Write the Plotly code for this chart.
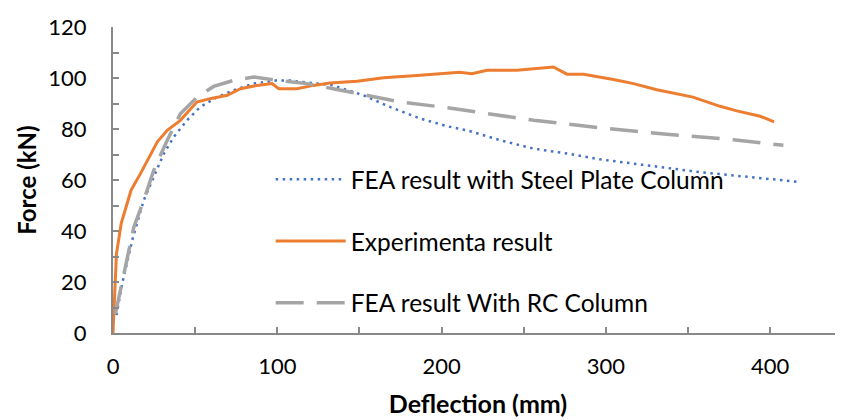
import plotly.graph_objects as go

# FEA result with steel plate column (blue dotted)
steel_x = [2.1, 5.6, 11.7, 18.7, 24.8, 30.9, 37, 45, 53, 63.4, 73.5, 85.6, 99.9, 108, 124, 134,
           152.5, 168.8, 187, 204, 215.4, 235.7, 256, 276.3, 296.5, 316.8, 337, 357, 377.6, 397.9, 418.2]
steel_f = [7, 19.4, 36.4, 52, 61.2, 70.3, 76.9, 83.4, 88.6, 92.5, 95.2, 97.8, 99.1, 99, 97.8, 97.1,
           93.2, 88.6, 84.1, 81, 79.5, 75.6, 72.3, 70.4, 68.1, 66.4, 64.7, 63.1, 61.8, 60.5, 59.2]

# experimental result (orange)
exp_x = [0, 2.1, 5, 11, 16.7, 21.8, 27, 33, 41, 51, 59, 69.5, 77.6, 87.7, 96.8, 100.9, 112, 122,
         132, 148.5, 164.7, 185, 201, 211, 218.5, 227.6, 245.9, 256, 268, 276.3, 286.4, 304.6,
         316.8, 331, 353, 369.5, 379.7, 393.9, 402.4]
exp_f = [0, 31, 43, 56, 62.5, 69, 75, 79.5, 83.4, 90.6, 91.9, 93.2, 95.8, 97.1, 97.8, 95.8, 95.8, 97.1,
         98, 98.7, 100.1, 101, 101.7, 102.3, 101.7, 103, 103, 103.7, 104.3, 101.5, 101.5, 99.4,
         97.8, 95.4, 92.5, 88.9, 87.1, 85, 82.8]

# FEA result with RC column (grey dashed)
rc_x = [1.5, 6.6, 12.7, 18.7, 24.8, 33, 41, 51.2, 61.3, 73.5, 85.6, 100, 118, 134, 154.6, 175,
        203, 215.4, 256, 296.5, 337, 377.6, 408]
rc_f = [7.6, 23.3, 41.6, 52, 63.8, 75.6, 86, 92.5, 96.7, 99.1, 100.4, 99.1, 97.8, 95.8, 93.2, 90.6,
        88.4, 87.3, 83.4, 80.5, 77.9, 75.8, 73.6]

font = "Lato"
axis_col = "#898989"

fig = go.Figure()
fig.add_trace(go.Scatter(x=steel_x, y=steel_f, mode='lines', name='FEA result with Steel Plate Column',
                         legendgroup='a', line=dict(color='#4472C4', width=2.5, dash='2.5px,4.5px')))
fig.add_trace(go.Scatter(x=exp_x, y=exp_f, mode='lines', name='Experimenta result',
                         legendgroup='b', line=dict(color='#ED7D31', width=3)))
fig.add_trace(go.Scatter(x=rc_x, y=rc_f, mode='lines', name='FEA result With RC Column',
                         legendgroup='c', line=dict(color='#A5A5A5', width=3.5, dash='28px,13px')))

fig.update_layout(
    width=843, height=420,
    margin=dict(l=104.5, r=8, t=19, b=95),
    plot_bgcolor='white', paper_bgcolor='white',
    font=dict(family=font, size=22, color='black'),
    showlegend=True,
    legend=dict(x=0.216, y=0.576, xanchor='left', yanchor='top', itemwidth=70,
                tracegroupgap=27, font=dict(size=24.5), bgcolor='rgba(0,0,0,0)'),
    xaxis=dict(range=[0, 444.3], tickvals=[0, 100, 200, 300, 400], showgrid=False, zeroline=False,
               showline=True, linecolor=axis_col, linewidth=2, ticks='inside', ticklen=6,
               tickcolor=axis_col, tickwidth=1.5, ticklabelstandoff=13, automargin=False,
               minor=dict(dtick=50, ticks='inside', ticklen=6, tickcolor=axis_col, tickwidth=1.5),
               title=dict(text='<b>Deflection (mm)</b>', standoff=17, font=dict(size=25))),
    yaxis=dict(range=[0, 120], tickvals=[0, 20, 40, 60, 80, 100, 120], showgrid=False, zeroline=False,
               showline=True, linecolor=axis_col, linewidth=2, ticks='inside', ticklen=6,
               tickcolor=axis_col, tickwidth=1.5, ticklabelstandoff=20, automargin=False,
               minor=dict(dtick=10, ticks='inside', ticklen=6, tickcolor=axis_col, tickwidth=1.5),
               title=dict(text='<b>Force (kN)</b>', standoff=5, font=dict(size=24))),
)

fig.write_html("out.html")
